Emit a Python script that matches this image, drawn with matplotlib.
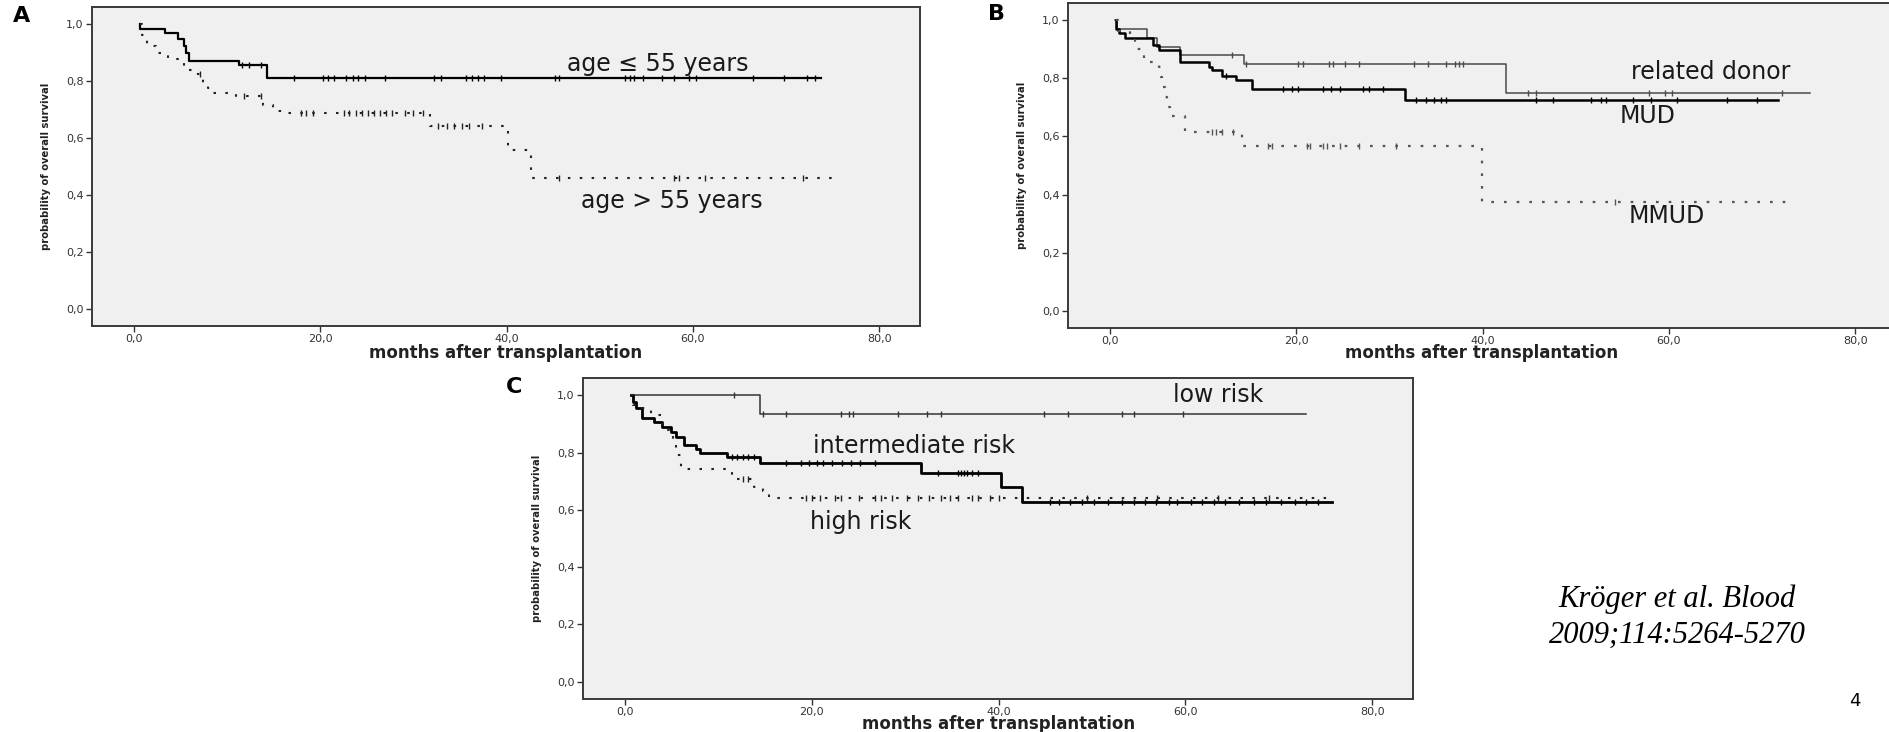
import numpy as np
import matplotlib
matplotlib.use("Agg")
import matplotlib.pyplot as plt

# survival data read as step curves: event times (months), survival after each
# event, censoring times, last follow-up
# panel A - age
young_t = [0.7, 3.3, 4.7, 5.4, 5.6, 5.9, 11.3, 14.3]
young_s = [0.983, 0.969, 0.948, 0.922, 0.899, 0.872, 0.856, 0.81]
young_cens = [11.6, 12.3, 13.6, 17.2, 20.3, 20.8, 21.5, 22.8, 23.5, 24.1, 24.8,
              27.0, 32.2, 33.0, 35.6, 36.3, 36.9, 37.6, 39.4, 45.2, 45.6, 52.7,
              53.3, 53.7, 54.7, 56.7, 58.0, 59.6, 60.3, 66.5, 69.8, 72.3, 73.1]
young_end = 73.8

old_t = [0.9, 1.4, 2.4, 3.7, 4.9, 5.4, 6.4, 7.4, 7.9, 8.3, 11.0, 13.9, 14.9,
         16.0, 31.8, 40.2, 42.6]
old_s = [0.963, 0.922, 0.899, 0.878, 0.864, 0.839, 0.824, 0.795, 0.774, 0.758,
         0.746, 0.716, 0.696, 0.688, 0.644, 0.557, 0.458]
old_cens = [7.1, 11.8, 13.6, 17.9, 18.5, 19.2, 22.5, 23.1, 23.8, 24.5, 25.1,
            25.8, 26.4, 27.1, 27.7, 29.1, 30.0, 31.0, 32.6, 33.6, 34.4, 35.2,
            36.0, 37.4, 45.6, 58.0, 58.5, 61.3, 71.8]
old_end = 75.7

# panel B - donor type
related_t = [0.8, 4.0, 5.0, 7.5, 14.4, 42.5]
related_s = [0.97, 0.94, 0.91, 0.88, 0.849, 0.75]
related_cens = [13.1, 14.6, 20.2, 20.7, 23.5, 23.9, 25.2, 26.7, 32.6, 34.2,
                36.1, 37.1, 37.5, 37.9, 44.9, 45.7, 57.9, 59.6, 60.3, 72.2]
related_end = 75.2

mud_t = [0.6, 1.0, 1.6, 4.6, 5.3, 7.5, 10.6, 11.0, 12.0, 13.5, 15.3, 31.7]
mud_s = [0.97, 0.955, 0.94, 0.915, 0.898, 0.857, 0.84, 0.828, 0.81, 0.793,
         0.764, 0.726]
mud_cens = [12.5, 18.6, 19.5, 20.2, 22.9, 23.7, 24.7, 27.2, 27.8, 29.3, 32.9,
            33.9, 34.8, 35.5, 36.1, 45.7, 47.6, 51.7, 52.7, 53.3, 56.2, 58.1,
            60.9, 66.3, 69.5]
mud_end = 71.7

mmud_t = [0.9, 2.1, 2.7, 3.7, 5.3, 5.5, 5.6, 5.9, 6.1, 6.4, 8.1, 14.2, 39.9]
mmud_s = [0.962, 0.933, 0.903, 0.857, 0.84, 0.805, 0.77, 0.735, 0.70, 0.672,
          0.615, 0.566, 0.374]
mmud_cens = [11.0, 11.4, 12.0, 13.2, 17.0, 17.4, 21.2, 21.5, 22.9, 23.3, 24.7,
             26.7, 30.7, 54.2]
mmud_end = 73.3

# panel C - risk group
low_t = [14.5]
low_s = [0.936]
low_cens = [11.7, 14.8, 17.2, 23.1, 24.0, 24.4, 29.2, 32.3, 33.8, 44.9, 47.4,
            53.2, 54.5, 59.7]
low_end = 72.9

inter_t = [0.8, 1.2, 1.8, 3.1, 4.0, 4.9, 5.5, 6.3, 7.6, 8.0, 10.9, 14.5, 31.7,
           40.3, 42.5]
inter_s = [0.977, 0.954, 0.922, 0.907, 0.89, 0.872, 0.855, 0.826, 0.811, 0.797,
           0.786, 0.762, 0.728, 0.681, 0.629]
inter_cens = [11.4, 12.0, 12.6, 13.2, 13.8, 17.2, 18.8, 19.7, 20.6, 21.2, 22.2,
              23.2, 24.2, 25.2, 26.8, 33.5, 35.7, 36.0, 36.3, 36.6, 37.2, 37.8,
              45.5, 46.5, 47.7, 48.9, 50.2, 51.7, 53.2, 54.5, 55.7, 56.9, 58.2,
              59.1, 60.6, 61.8, 63.1, 64.3, 65.8, 67.4, 68.6, 70.2, 71.7, 72.9,
              74.2]
inter_end = 75.7

high_t = [0.9, 1.8, 2.8, 4.0, 4.6, 5.1, 5.5, 6.0, 6.5, 11.4, 11.8, 13.8, 14.8,
          15.4]
high_s = [0.965, 0.954, 0.93, 0.90, 0.878, 0.844, 0.79, 0.751, 0.741, 0.716,
          0.708, 0.681, 0.664, 0.641]
high_cens = [12.6, 13.2, 19.4, 20.0, 20.9, 22.5, 23.1, 25.0, 26.8, 27.4, 28.6,
             30.2, 31.4, 32.6, 33.8, 34.8, 35.7, 37.2, 37.8, 39.1, 40.0, 49.5,
             57.0, 63.5, 69.0]
high_end = 75.4

yticks = [0.0, 0.2, 0.4, 0.6, 0.8, 1.0]
xticks = [0, 20, 40, 60, 80]


def km(ax, t, s, cens, end, start=0.6, **style):
    x = [start] + t + [end]
    y = [1.0] + s + [s[-1]]
    ax.step(x, y, where="post", **style)
    idx = np.searchsorted(t, cens, side="right")
    cy = [1.0 if i == 0 else s[i - 1] for i in idx]
    ax.plot(cens, cy, ls="none", marker="|", ms=5, mew=1.0,
            color=style.get("color", "black"))


def setup(ax):
    ax.set_facecolor("#f0f0f0")
    ax.set_xlim(-4.5, 84.4)
    ax.set_ylim(-0.06, 1.06)
    ax.set_xticks(xticks)
    ax.set_xticklabels([f"{v:.1f}".replace(".", ",") for v in xticks])
    ax.set_yticks(yticks)
    ax.set_yticklabels([f"{v:.1f}".replace(".", ",") for v in yticks])
    ax.tick_params(length=4, width=1, pad=2, labelsize=8, colors="#333333")
    for sp in ax.spines.values():
        sp.set_color("#3a3a3a")
        sp.set_linewidth(1.4)
    ax.set_xlabel("months after transplantation", fontsize=12,
                  fontweight="bold", color="#222222", va="center")
    ax.set_ylabel("probability of overall survival", fontsize=7.2,
                  fontweight="bold", family=["Liberation Sans Narrow", "DejaVu Sans"],
                  color="#222222", va="center")
    ax.yaxis.set_label_coords(-0.056, 0.5)


fig = plt.figure(figsize=(18.9, 7.32), dpi=100)

ax_a = fig.add_axes([0.0487, 0.5546, 0.4381, 0.4358])
ax_b = fig.add_axes([0.5651, 0.5519, 0.4381, 0.4440])
ax_c = fig.add_axes([0.3085, 0.0451, 0.4392, 0.4385])
for ax in (ax_a, ax_b, ax_c):
    setup(ax)
ax_a.xaxis.set_label_coords(0.5, -0.085)
ax_b.xaxis.set_label_coords(0.5, -0.077)
ax_c.xaxis.set_label_coords(0.5, -0.077)

dotted = (0, (1.2, 4.5))
big = dict(fontsize=17, color="#1a1a1a", ha="center", va="baseline")

# A
km(ax_a, young_t, young_s, young_cens, young_end, color="black", lw=1.6)
km(ax_a, old_t, old_s, old_cens, old_end, color="#222222", lw=1.5, ls=dotted)
ax_a.text(56.2, 0.836, "age ≤ 55 years", **big)
ax_a.text(57.8, 0.354, "age > 55 years", **big)

# B
km(ax_b, related_t, related_s, related_cens, related_end, start=0.5,
   color="#4a4a4a", lw=1.1)
km(ax_b, mud_t, mud_s, mud_cens, mud_end, color="black", lw=1.8)
km(ax_b, mmud_t, mmud_s, mmud_cens, mmud_end, color="#555555", lw=1.6, ls=dotted)
ax_b.text(64.5, 0.799, "related donor", **big)
ax_b.text(57.7, 0.645, "MUD", **big)
ax_b.text(59.8, 0.303, "MMUD", **big)

# C
km(ax_c, low_t, low_s, low_cens, low_end, color="#333333", lw=1.1)
km(ax_c, inter_t, inter_s, inter_cens, inter_end, color="black", lw=2.0)
km(ax_c, high_t, high_s, high_cens, high_end, color="#222222", lw=1.5, ls=dotted)
ax_c.text(63.5, 0.976, "low risk", **big)
ax_c.text(30.9, 0.798, "intermediate risk", **big)
ax_c.text(25.2, 0.533, "high risk", **big)

# panel letters
for x, y, s in [(22, 16, "A"), (997, 14, "B"), (514, 387, "C")]:
    fig.text(x / 1890, 1 - y / 732, s, fontsize=16, fontweight="heavy",
             ha="center", va="center")

fig.text(1677 / 1890, 1 - 607 / 732, "Kröger et al. Blood", fontsize=22,
         family="Liberation Serif", style="italic", ha="center", va="baseline")
fig.text(1677 / 1890, 1 - 643 / 732, "2009;114:5264-5270", fontsize=22,
         family="Liberation Serif", style="italic", ha="center", va="baseline")
fig.text(1855 / 1890, 1 - 706 / 732, "4", fontsize=13, ha="center",
         va="baseline")

fig.savefig("out.png", dpi=100)
